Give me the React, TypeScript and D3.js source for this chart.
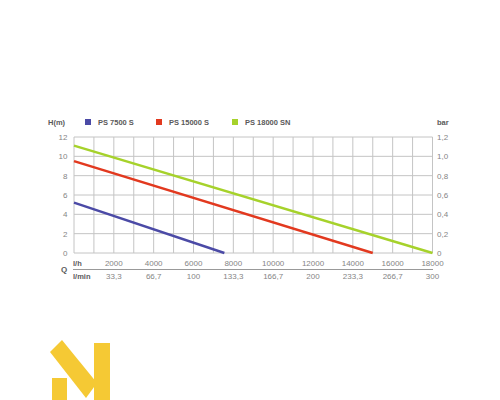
import React from "react";
import * as d3 from "d3";

const flowTicks = [2000, 4000, 6000, 8000, 10000, 12000, 14000, 16000, 18000];
const flowMinLabels = ["33,3", "66,7", "100", "133,3", "166,7", "200", "233,3", "266,7", "300"];
const headTicks = [0, 2, 4, 6, 8, 10, 12];
const barLabels = ["0", "0,2", "0,4", "0,6", "0,8", "1,0", "1,2"];
const seriesNames = ["PS 7500 S", "PS 15000 S", "PS 18000 SN"];
const seriesColors = ["#4b4aa6", "#e2391f", "#a6d22b"];
const ps7500 = [{ q: 0, h: 5.2 }, { q: 7550, h: 0 }];
const ps15000 = [{ q: 0, h: 9.5 }, { q: 15000, h: 0 }];
const ps18000 = [{ q: 0, h: 11.1 }, { q: 18000, h: 0 }];
const seriesData = [ps7500, ps15000, ps18000];

export default function App() {
  const x = d3.scaleLinear().domain([0, 18000]).range([74, 432.5]);
  const y = d3.scaleLinear().domain([0, 12]).range([253, 137]);
  const line = d3.line<{ q: number; h: number }>().x((d) => x(d.q)).y((d) => y(d.h));
  const vGrid = d3.range(0, 18001, 1000);
  const hGrid = d3.range(0, 12.1, 2);
  const font = "'Liberation Sans', Arial, sans-serif";
  const grid = "#c4c4c4";
  const txt = "#858585";
  const dark = "#5a5a5a";
  const legendX = [85, 156, 232];
  return (
    <svg width={500} height={400} style={{ position: "absolute", left: 0, top: 0, background: "#fff" }} fontFamily={font}>
      {vGrid.map((v) => (
        <line key={"v" + v} x1={x(v)} x2={x(v)} y1={y(12)} y2={y(0)} stroke={grid} strokeWidth={1} />
      ))}
      {hGrid.map((v) => (
        <line key={"h" + v} x1={x(0)} x2={x(18000)} y1={y(v)} y2={y(v)} stroke={grid} strokeWidth={1} />
      ))}
      {seriesData.map((s, i) => (
        <path key={i} d={line(s) || ""} fill="none" stroke={seriesColors[i]} strokeWidth={2.4} />
      ))}
      {headTicks.map((v) => (
        <text key={"l" + v} x={67.5} y={y(v) + 3} textAnchor="end" fontSize={8} fill={txt}>{v}</text>
      ))}
      {headTicks.map((v, i) => (
        <text key={"r" + v} x={437} y={y(v) + 3} textAnchor="start" fontSize={8} fill={txt}>{barLabels[i]}</text>
      ))}
      <text x={48} y={125} fontSize={7.5} fontWeight="bold" fill={dark}>H(m)</text>
      <text x={437} y={125} fontSize={7.5} fontWeight="bold" fill={dark}>bar</text>
      {seriesNames.map((n, i) => (
        <g key={n}>
          <rect x={legendX[i]} y={119} width={6} height={6} fill={seriesColors[i]} />
          <text x={legendX[i] + 13} y={125} fontSize={7.5} fontWeight="bold" fill={dark}>{n}</text>
        </g>
      ))}
      <text x={73} y={265.5} fontSize={7.5} fontWeight="bold" fill={dark}>l/h</text>
      {flowTicks.map((v) => (
        <text key={"f" + v} x={x(v)} y={265.5} textAnchor="middle" fontSize={8} fill={txt}>{v}</text>
      ))}
      <line x1={73} x2={433} y1={269.5} y2={269.5} stroke="#999" strokeWidth={1} />
      <text x={61} y={272} fontSize={8} fontWeight="bold" fill={dark}>Q</text>
      <text x={73} y={279} fontSize={7.5} fontWeight="bold" fill={dark}>l/min</text>
      {flowTicks.map((v, i) => (
        <text key={"m" + v} x={x(v)} y={279} textAnchor="middle" fontSize={8} fill={txt}>{flowMinLabels[i]}</text>
      ))}
      <g fill="#f5c934">
        <rect x={94} y={343} width={16} height={57} />
        <rect x={52} y={378} width={15} height={22} />
        <polygon points="50,352 62,340 97,383 86,398" />
      </g>
    </svg>
  );
}
